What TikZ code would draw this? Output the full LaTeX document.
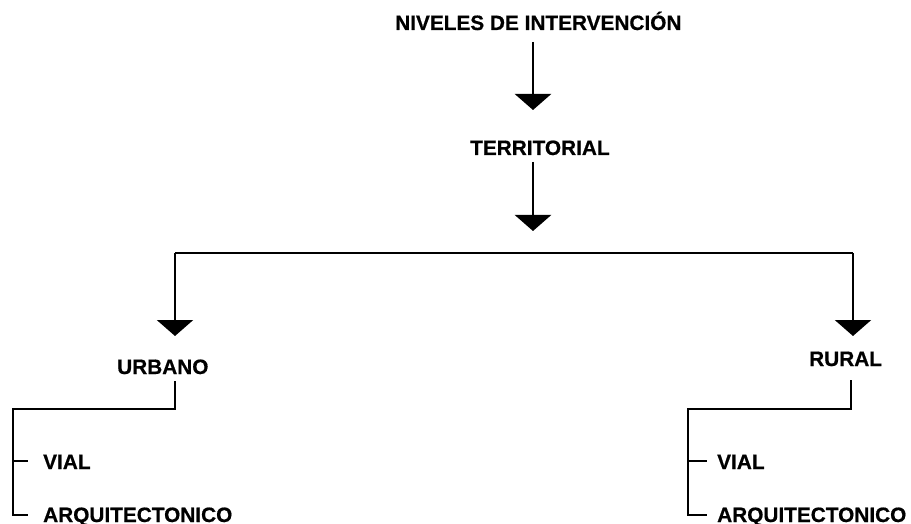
\documentclass[tikz,border=0pt]{standalone}
\usepackage{fontspec}
\setmainfont{Liberation Sans}
\newfontfamily\lblfont{Liberation Sans}[BoldFeatures={FakeBold=0.6}]
\usetikzlibrary{arrows.meta}
\begin{document}
\begin{tikzpicture}[x=1pt,y=-1pt,
  lbl/.style={anchor=base west,inner sep=0pt,font=\lblfont\fontsize{20.8}{24}\selectfont\bfseries},
  conn/.style={line width=2.6pt,draw=black},
  arr/.style={conn,-{Triangle[width=36pt,length=16pt]}},
  brace/.style={line width=2.2pt,draw=black}]
\useasboundingbox (0,0) rectangle (911,524);
% nodes
\node[lbl] (title) at (395,30) {NIVELES DE INTERVENCIÓN};
\node[lbl] (terr) at (470,155) {TERRITORIAL};
\node[lbl] (urb) at (117,374) {URBANO};
\node[lbl] (rur) at (809,366) {RURAL};
\node[lbl] (via1) at (43,469) {VIAL};
\node[lbl] (arq1) at (43,522) {ARQUITECTONICO};
\node[lbl] (via2) at (717,469) {VIAL};
\node[lbl] (arq2) at (717,522) {ARQUITECTONICO};
% coordinates
\coordinate (a1s) at (533,42);
\coordinate (a1e) at (533,110);
\coordinate (a2s) at (533,162);
\coordinate (a2e) at (533,231);
\coordinate (barL) at (175,253);
\coordinate (barR) at (853,253);
\coordinate (tipL) at (175,336);
\coordinate (tipR) at (853,336);
% arrows
\draw[arr] (a1s) -- (a1e);
\draw[arr] (a2s) -- (a2e);
\draw[conn] (barL) -- (barR);
\draw[arr] (barL) -- (tipL);
\draw[arr] (barR) -- (tipR);
% brackets left
\coordinate (uL1) at (175,381);
\coordinate (uL2) at (175,409);
\coordinate (uL3) at (13,409);
\coordinate (uL4) at (13,515);
\draw[brace] (uL1) -- (uL2) -- (uL3) -- (uL4) -- (uL4 -| 28,0);
\draw[brace] (13,461) -- (28,461);
% brackets right
\coordinate (rL1) at (851,380);
\coordinate (rL2) at (851,409);
\coordinate (rL3) at (688,409);
\coordinate (rL4) at (688,515);
\draw[brace] (rL1) -- (rL2) -- (rL3) -- (rL4) -- (rL4 -| 707,0);
\draw[brace] (688,461) -- (707,461);
\end{tikzpicture}
\end{document}
